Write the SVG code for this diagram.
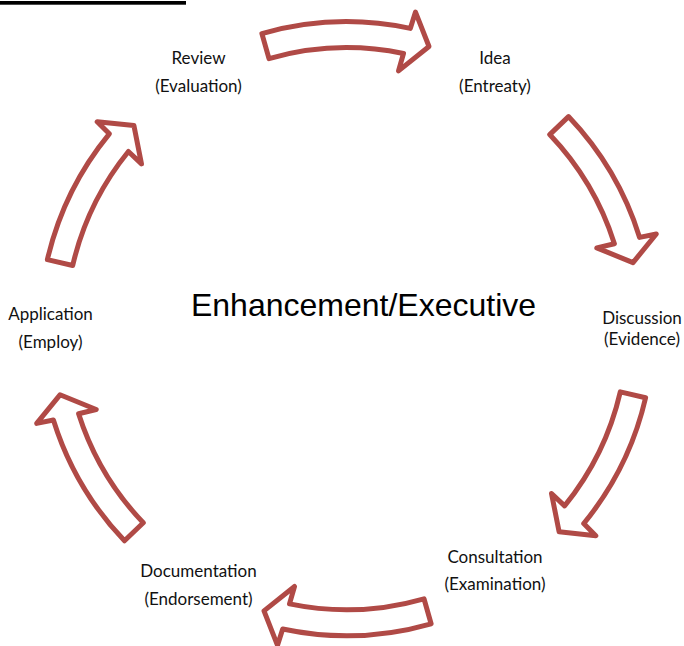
<svg xmlns="http://www.w3.org/2000/svg" width="684" height="646" viewBox="0 0 684 646">
<style>
.arrow{fill:#ffffff;stroke:#B04A46;stroke-width:5;stroke-linejoin:round}
.lbl{font-family:Lato,"Liberation Sans",sans-serif;font-size:17px;fill:#111111;text-anchor:middle}
.title{font-family:"Liberation Sans",Arial,sans-serif;font-size:32px;fill:#000000;text-anchor:middle}
</style>
<rect x="0" y="1" width="186" height="3.7" fill="#000000"/>
<g id="connectors">
<path class="arrow" d="M261.9,33.6 A307,307 0 0 1 410.3,28.4 L415.5,12.1 L429.0,46.5 L398.5,70.9 L403.5,53.5 A281,281 0 0 0 269.0,58.6 Z"/>
<path class="arrow" d="M568.5,116.6 A307,307 0 0 1 639.6,237.4 L656.3,234.0 L633.0,262.6 L596.8,247.9 L614.4,243.7 A281,281 0 0 0 549.7,134.6 Z"/>
<path class="arrow" d="M645.6,397.8 A307,307 0 0 1 583.7,523.6 L595.8,535.7 L559.1,531.8 L551.5,493.5 L564.6,505.9 A281,281 0 0 0 620.3,391.9 Z"/>
<path class="arrow" d="M431.1,623.8 A307,307 0 0 1 282.7,629.0 L277.5,645.3 L264.0,610.9 L294.5,586.5 L289.5,603.9 A281,281 0 0 0 424.0,598.8 Z"/>
<path class="arrow" d="M124.5,540.8 A307,307 0 0 1 53.4,420.0 L36.7,423.4 L60.0,394.8 L96.2,409.5 L78.6,413.7 A281,281 0 0 0 143.3,522.8 Z"/>
<path class="arrow" d="M47.4,259.6 A307,307 0 0 1 109.3,133.8 L97.2,121.7 L133.9,125.6 L141.5,163.9 L128.4,151.5 A281,281 0 0 0 72.7,265.5 Z"/>
</g>
<g id="center">
<text class="title" x="363.5" y="316">Enhancement/Executive</text>
</g>
<g id="node-review">
<text class="lbl" x="198.5" y="64">Review</text>
<text class="lbl" x="198.5" y="92">(Evaluation)</text>
</g>
<g id="node-idea">
<text class="lbl" x="495" y="64">Idea</text>
<text class="lbl" x="495" y="92">(Entreaty)</text>
</g>
<g id="node-discussion">
<text class="lbl" x="642" y="324">Discussion</text>
<text class="lbl" x="642" y="345">(Evidence)</text>
</g>
<g id="node-consultation">
<text class="lbl" x="495" y="563">Consultation</text>
<text class="lbl" x="495" y="590">(Examination)</text>
</g>
<g id="node-documentation">
<text class="lbl" x="198.5" y="577">Documentation</text>
<text class="lbl" x="198.5" y="605">(Endorsement)</text>
</g>
<g id="node-application">
<text class="lbl" x="50.5" y="320">Application</text>
<text class="lbl" x="50.5" y="348">(Employ)</text>
</g>
</svg>
